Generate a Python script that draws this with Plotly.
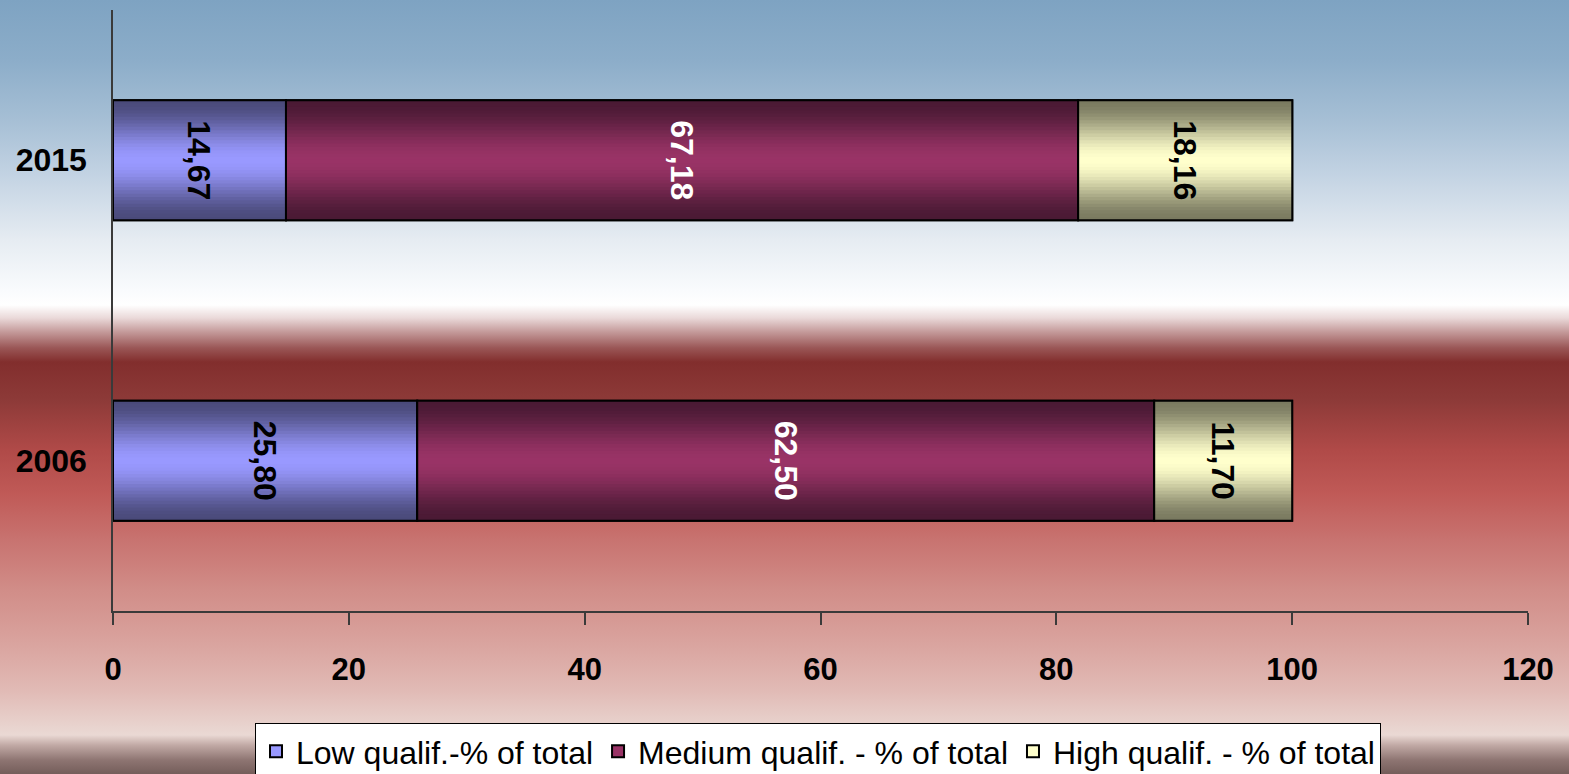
import base64
import plotly.graph_objects as go

# Qualification structure of employment, % of total
years = ["2006", "2015"]
series_names = [
    "Low qualif.-% of total",
    "Medium qualif. - % of total",
    "High qualif. - % of total",
]
low_values = [25.80, 14.67]
medium_values = [62.50, 67.18]
high_values = [11.70, 18.16]
x_ticks = [0, 20, 40, 60, 80, 100, 120]

series_values = [low_values, medium_values, high_values]
# (edge colour, centre colour, label colour) for the cylinder-like shading
styles = [
    ((74, 74, 122), (153, 153, 255), "black"),
    ((74, 26, 52), (153, 51, 102), "white"),
    ((122, 122, 96), (255, 255, 204), "black"),
]

W, H = 1569, 774
ML, MR, MT, MB = 113, 41, 10, 163
PW, PH = W - ML - MR, H - MT - MB

FONT = "Arial, Liberation Sans, sans-serif"
BAR_W = 0.4
N_STRIPS = 18


def rgb(c):
    return "rgb(%d,%d,%d)" % tuple(int(round(v)) for v in c)


def mix(a, b, t):
    return tuple(a[i] + (b[i] - a[i]) * t for i in range(3))


def fmt(v):
    return f"{v:.2f}".replace(".", ",")


# page background: vertical gradient sky -> white -> deep red -> pale rose
stops = [
    (0, "#7ea3c2"), (60, "#8cadc9"), (120, "#a6bfd5"), (175, "#c3d3e3"),
    (240, "#e6ecf2"), (290, "#f9fbfd"), (305, "#ffffff"), (318, "#ead9d9"),
    (332, "#c49a9a"), (348, "#9a5656"), (362, "#822e2d"), (400, "#8d3a38"),
    (450, "#b04a48"), (494, "#c05a57"), (540, "#c87370"), (590, "#d18d88"),
    (640, "#d9a29d"), (690, "#e1bab5"), (735, "#ead9d4"), (745, "#c2aaa6"),
    (760, "#8e7572"), (774, "#745d5a"),
]
stop_tags = "".join(
    f"<stop offset='{y / H:.4f}' stop-color='{c}'/>" for y, c in stops
)
svg = (
    f"<svg xmlns='http://www.w3.org/2000/svg' width='{W}' height='{H}' "
    f"viewBox='0 0 {W} {H}' preserveAspectRatio='none'>"
    f"<defs><linearGradient id='g' x1='0' y1='0' x2='0' y2='1'>{stop_tags}"
    f"</linearGradient></defs><rect width='{W}' height='{H}' fill='url(#g)'/></svg>"
)
bg_src = "data:image/svg+xml;base64," + base64.b64encode(svg.encode()).decode()

fig = go.Figure()

bases = [0.0, 0.0]
for name, vals, (edge, mid, txt) in zip(series_names, series_values, styles):
    base = list(bases)
    # main bar (also provides the legend swatch)
    fig.add_trace(go.Bar(
        y=years, x=vals, base=base, orientation="h", name=name,
        width=BAR_W, offset=-BAR_W / 2,
        marker=dict(color=rgb(mid), line=dict(color="black", width=2)),
        hoverinfo="skip", legendgroup=name,
    ))
    # shading strips: darker toward the top and bottom edges
    h = (BAR_W / 2) / N_STRIPS
    for k in range(N_STRIPS):
        t = (k + 0.5) / N_STRIPS
        f = t * t * (3 - 2 * t)
        col = rgb(mix(edge, mid, f))
        top_off = BAR_W / 2 - (k + 1) * h
        bot_off = -BAR_W / 2 + k * h
        fig.add_trace(go.Bar(
            y=years + years, x=vals + vals, base=base + base, orientation="h",
            width=[h * 1.25] * 4,
            offset=[top_off - h * 0.25] * 2 + [bot_off] * 2,
            marker=dict(color=col, line=dict(width=0)),
            hoverinfo="skip", showlegend=False, legendgroup=name,
        ))
    # outline and value labels on top
    fig.add_trace(go.Bar(
        y=years, x=vals, base=base, orientation="h",
        width=BAR_W, offset=-BAR_W / 2,
        marker=dict(color="rgba(0,0,0,0)", line=dict(color="black", width=2)),
        text=[fmt(v) for v in vals], textposition="inside",
        insidetextanchor="middle", textangle=90, constraintext="none",
        textfont=dict(family=FONT, size=32, color=txt, weight="bold"),
        hoverinfo="skip", showlegend=False, legendgroup=name,
    ))
    bases = [b + v for b, v in zip(bases, vals)]

fig.update_layout(
    width=W, height=H,
    margin=dict(l=ML, r=MR, t=MT, b=MB, autoexpand=False),
    barmode="overlay",
    paper_bgcolor="#c98080",
    plot_bgcolor="rgba(0,0,0,0)",
    images=[dict(
        source=bg_src, xref="paper", yref="paper",
        x=-ML / PW, y=1 + MT / PH, sizex=W / PW, sizey=H / PH,
        xanchor="left", yanchor="top", sizing="stretch", layer="below",
    )],
    showlegend=True,
    legend=dict(
        orientation="h", x=(818 - ML) / PW, xanchor="center",
        y=(611 - 723) / PH, yanchor="top",
        bgcolor="white", bordercolor="black", borderwidth=1,
        font=dict(family=FONT, size=32, color="black"),
        traceorder="normal", itemsizing="constant",
    ),
    xaxis=dict(
        range=[0, 120], tickvals=x_ticks, ticktext=[str(t) for t in x_ticks],
        showgrid=False, zeroline=False,
        showline=True, linecolor="#3a3a3a", linewidth=1.5,
        ticks="outside", ticklen=12, tickcolor="#3a3a3a", tickwidth=1.5,
        ticklabelstandoff=18,
        tickfont=dict(family=FONT, size=31, color="black", weight="bold"),
    ),
    yaxis=dict(
        type="category", categoryorder="array", categoryarray=years,
        range=[-0.5, 1.5], showgrid=False, zeroline=False,
        showline=True, linecolor="#3a3a3a", linewidth=1.5,
        ticks="", ticklabelstandoff=18,
        tickfont=dict(family=FONT, size=32, color="black", weight="bold"),
    ),
)

fig.write_html("out.html")
